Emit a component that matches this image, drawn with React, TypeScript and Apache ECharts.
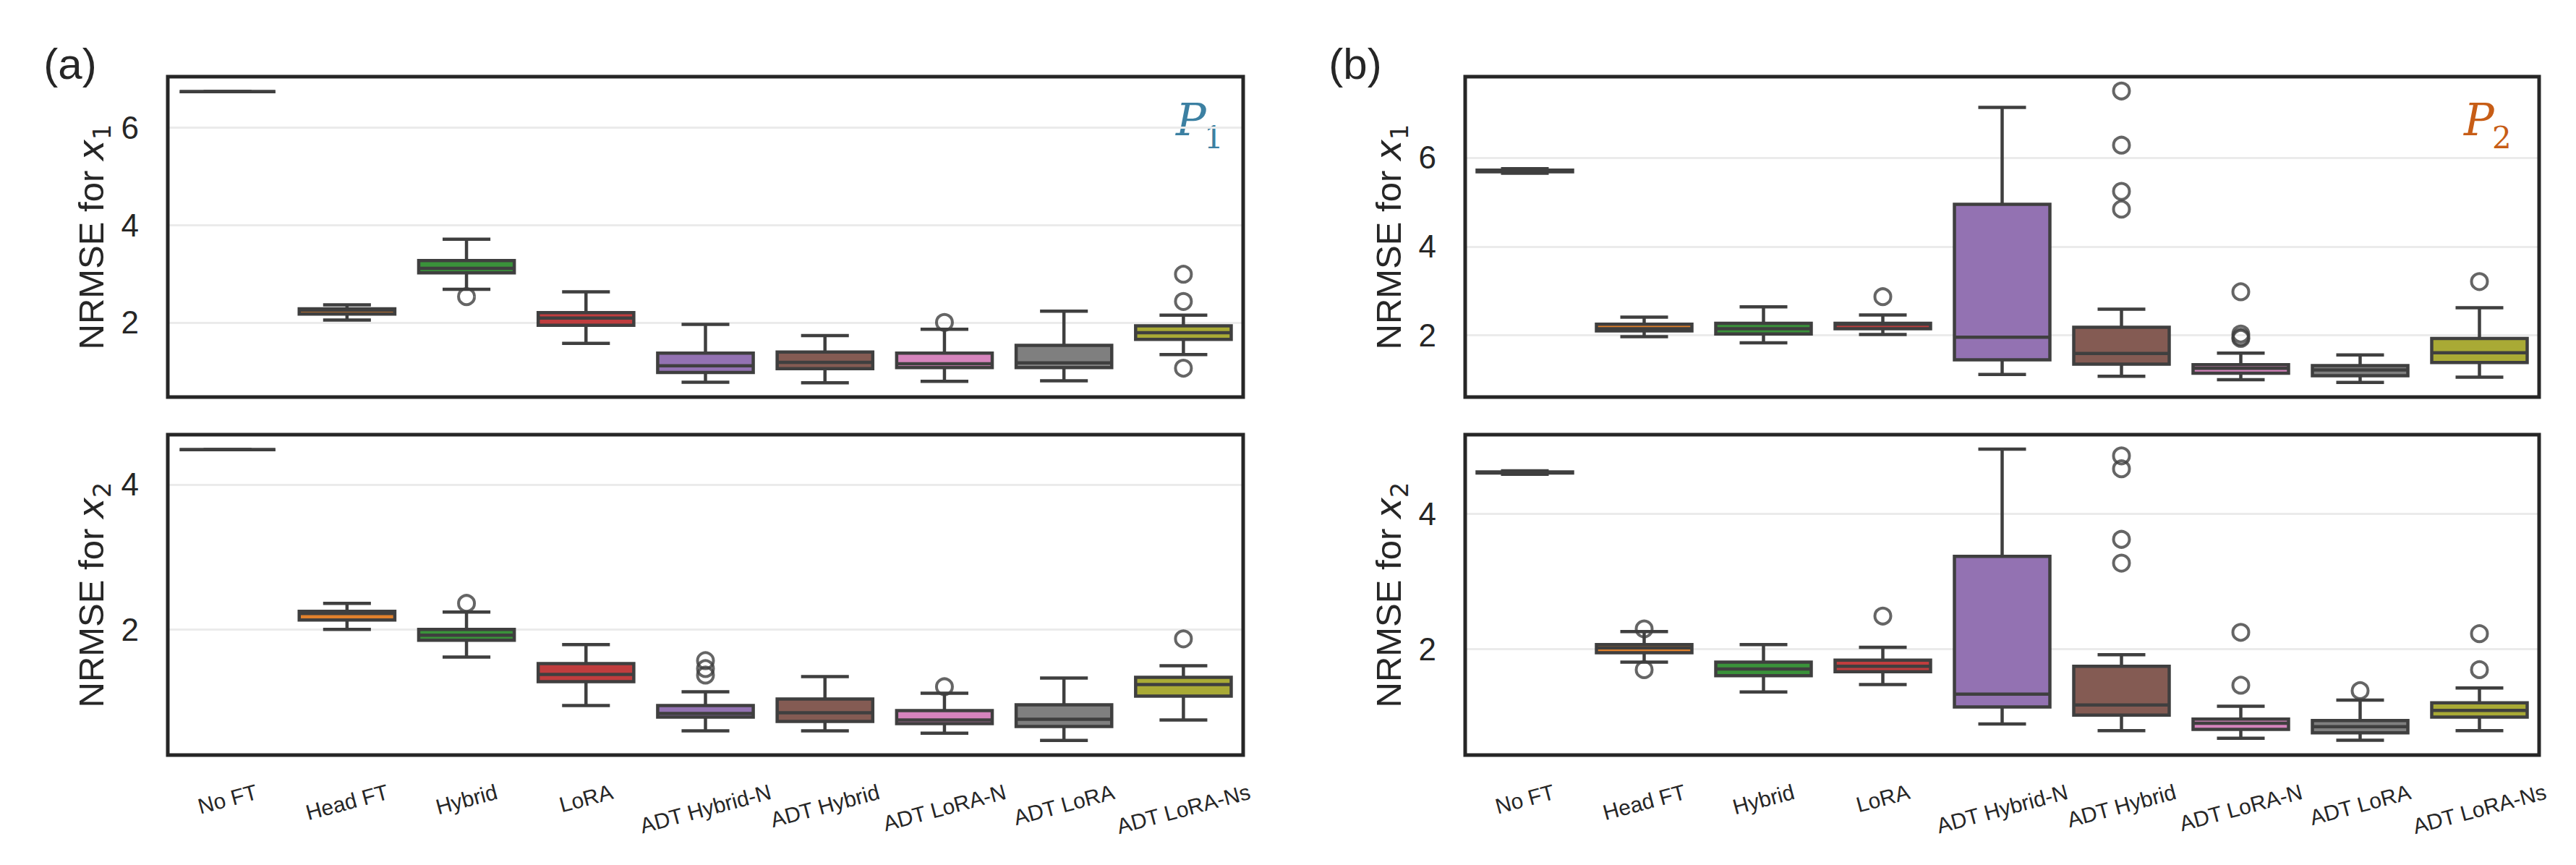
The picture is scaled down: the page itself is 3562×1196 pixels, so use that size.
import React, { useEffect, useRef } from 'react';
import * as echarts from 'echarts';

// Fine-tuning methods, in display order
const methods = [
  'No FT',
  'Head FT',
  'Hybrid',
  'LoRA',
  'ADT Hybrid-N',
  'ADT Hybrid',
  'ADT LoRA-N',
  'ADT LoRA',
  'ADT LoRA-Ns',
];

const boxColors = [
  '#3274a1',
  '#e1812c',
  '#3a923a',
  '#c03d3e',
  '#9372b2',
  '#845b53',
  '#d684bd',
  '#7f7f7f',
  '#a9aa35',
];

// Box statistics per method: [whiskerLow, q1, median, q3, whiskerHigh]
const p1x1Boxes = [
  [6.74, 6.74, 6.74, 6.74, 6.74],
  [2.05, 2.17, 2.25, 2.28, 2.36],
  [2.68, 3.02, 3.11, 3.27, 3.71],
  [1.57, 1.94, 2.09, 2.2, 2.63],
  [0.77, 0.97, 1.11, 1.37, 1.96],
  [0.76, 1.05, 1.18, 1.39, 1.73],
  [0.79, 1.07, 1.15, 1.37, 1.86],
  [0.8, 1.07, 1.17, 1.53, 2.23],
  [1.34, 1.65, 1.79, 1.93, 2.15],
];
const p1x1Outliers = [
  [2, 2.53],
  [6, 2.0],
  [8, 2.99],
  [8, 2.43],
  [8, 1.06],
];

const p1x2Boxes = [
  [4.48, 4.48, 4.48, 4.48, 4.48],
  [2.0, 2.13, 2.22, 2.25, 2.36],
  [1.62, 1.85, 1.92, 2.0, 2.24],
  [0.95, 1.28, 1.38, 1.53, 1.79],
  [0.6, 0.79, 0.84, 0.95, 1.14],
  [0.6, 0.73, 0.85, 1.04, 1.35],
  [0.57, 0.7, 0.75, 0.88, 1.12],
  [0.47, 0.66, 0.76, 0.96, 1.33],
  [0.75, 1.08, 1.24, 1.34, 1.5],
];
const p1x2Outliers = [
  [2, 2.36],
  [4, 1.57],
  [4, 1.46],
  [4, 1.37],
  [6, 1.21],
  [8, 1.87],
];

const p2x1Boxes = [
  [5.65, 5.68, 5.7, 5.72, 5.75],
  [1.97, 2.1, 2.15, 2.25, 2.41],
  [1.83, 2.03, 2.15, 2.27, 2.64],
  [2.02, 2.15, 2.25, 2.27, 2.46],
  [1.12, 1.45, 1.96, 4.95, 7.13],
  [1.08, 1.35, 1.59, 2.18, 2.59],
  [1.0, 1.15, 1.26, 1.34, 1.6],
  [0.94, 1.09, 1.22, 1.32, 1.56],
  [1.06, 1.39, 1.61, 1.93, 2.62],
];
const p2x1Outliers = [
  [3, 2.87],
  [5, 7.5],
  [5, 6.28],
  [5, 5.24],
  [5, 4.84],
  [6, 2.98],
  [6, 2.03],
  [6, 1.96],
  [6, 1.93],
  [8, 3.21],
];

const p2x2Boxes = [
  [4.58, 4.597, 4.605, 4.613, 4.63],
  [1.81, 1.95, 2.02, 2.07, 2.26],
  [1.37, 1.61, 1.71, 1.81, 2.07],
  [1.48, 1.67, 1.75, 1.84, 2.03],
  [0.9, 1.15, 1.34, 3.37, 4.95],
  [0.8, 1.03, 1.18, 1.75, 1.92],
  [0.69, 0.82, 0.91, 0.97, 1.16],
  [0.66, 0.77, 0.86, 0.95, 1.25],
  [0.8, 1.0, 1.1, 1.21, 1.43],
];
const p2x2Outliers = [
  [1, 2.3],
  [1, 1.7],
  [3, 2.49],
  [5, 4.85],
  [5, 4.66],
  [5, 3.62],
  [5, 3.27],
  [6, 2.25],
  [6, 1.47],
  [7, 1.39],
  [8, 2.23],
  [8, 1.7],
];

// Value-axis limits and tick labels per panel
const yLimits = [
  [0.466, 7.05],
  [0.267, 4.687],
  [0.611, 7.822],
  [0.441, 5.163],
];
const yTicks = [
  [2, 4, 6],
  [2, 4],
  [2, 4, 6],
  [2, 4],
];
const yNames = ['1', '2', '1', '2'];

const INK = '#262626';
const LINE = '#3f3f3f';
const SANS = '"Liberation Sans", Arial, sans-serif';
const X_LABEL_SIZE = 30;
const X_LABEL_ROTATE = 15;

const panels = [
  { boxes: p1x1Boxes, outliers: p1x1Outliers, left: 232, top: 106, width: 1487, labels: false },
  { boxes: p1x2Boxes, outliers: p1x2Outliers, left: 232, top: 601, width: 1487, labels: true },
  { boxes: p2x1Boxes, outliers: p2x1Outliers, left: 2026, top: 106, width: 1485, labels: false },
  { boxes: p2x2Boxes, outliers: p2x2Outliers, left: 2026, top: 601, width: 1485, labels: true },
];

// Rotated tick labels hang from a common top edge, so longer labels sit lower.
// Each label gets its own rich style whose padding moves it down by half its rotated extent.
function hangingLabelStyles() {
  const ctx = document.createElement('canvas').getContext('2d');
  const rad = (X_LABEL_ROTATE * Math.PI) / 180;
  const rich: Record<string, any> = {};
  methods.forEach((m, i) => {
    let w = m.length * X_LABEL_SIZE * 0.55;
    if (ctx) {
      ctx.font = `${X_LABEL_SIZE}px "Liberation Sans", Arial, sans-serif`;
      w = ctx.measureText(m).width;
    }
    const p = w * Math.sin(rad) * Math.cos(rad);
    const q = p * Math.tan(rad);
    rich[`m${i}`] = {
      fontSize: X_LABEL_SIZE,
      fontFamily: SANS,
      color: INK,
      padding: [p, q, 0, 0],
    };
  });
  return rich;
}

const renderBox = (params: any, api: any) => {
  const i = api.value(0);
  const ys = [1, 2, 3, 4, 5].map((d) => api.coord([i, api.value(d)])[1]);
  const cx = api.coord([i, api.value(3)])[0];
  const band = api.size([1, 0])[0];
  const hw = band * 0.4;
  const cw = band * 0.2;
  const [yLo, yQ1, yMed, yQ3, yHi] = ys;
  const stroke = { stroke: LINE, lineWidth: 4.5, fill: null };
  return {
    type: 'group',
    children: [
      { type: 'line', shape: { x1: cx, y1: yQ1, x2: cx, y2: yLo }, style: stroke },
      { type: 'line', shape: { x1: cx, y1: yQ3, x2: cx, y2: yHi }, style: stroke },
      { type: 'line', shape: { x1: cx - cw, y1: yLo, x2: cx + cw, y2: yLo }, style: stroke },
      { type: 'line', shape: { x1: cx - cw, y1: yHi, x2: cx + cw, y2: yHi }, style: stroke },
      {
        type: 'rect',
        shape: { x: cx - hw, y: yQ3, width: 2 * hw, height: yQ1 - yQ3 },
        style: { fill: boxColors[i], stroke: LINE, lineWidth: 4.5 },
      },
      { type: 'line', shape: { x1: cx - hw, y1: yMed, x2: cx + hw, y2: yMed }, style: stroke },
    ],
  };
};

function buildOption() {
  const grid: any[] = [];
  const xAxis: any[] = [];
  const yAxis: any[] = [];
  const series: any[] = [];
  const labelRich = hangingLabelStyles();

  panels.forEach((p, k) => {
    grid.push({
      left: p.left,
      top: p.top,
      width: p.width,
      height: 443,
      show: true,
      borderColor: INK,
      borderWidth: 5,
      backgroundColor: 'transparent',
      z: 3,
    });
    xAxis.push({
      type: 'category',
      gridIndex: k,
      data: methods,
      boundaryGap: true,
      axisLine: { show: false },
      axisTick: { show: false },
      splitLine: { show: false },
      axisLabel: p.labels
        ? {
            show: true,
            interval: 0,
            rotate: X_LABEL_ROTATE,
            align: 'center',
            verticalAlign: 'middle',
            margin: 50,
            fontSize: X_LABEL_SIZE,
            fontFamily: SANS,
            color: INK,
            formatter: (v: string) => `{m${methods.indexOf(v)}|${v}}`,
            rich: labelRich,
          }
        : { show: false },
    });
    yAxis.push({
      type: 'value',
      gridIndex: k,
      min: yLimits[k][0],
      max: yLimits[k][1],
      axisLine: { show: false },
      axisTick: { show: false, customValues: yTicks[k] },
      axisLabel: {
        customValues: yTicks[k],
        fontSize: 44,
        fontFamily: SANS,
        color: INK,
        margin: 40,
      },
      splitLine: { show: true, lineStyle: { color: '#ebebeb', width: 3 } },
      name: `{t|NRMSE for }{v|x}{s|${yNames[k]}}`,
      nameLocation: 'middle',
      nameRotate: 90,
      nameGap: 74,
      nameTextStyle: {
        color: INK,
        fontSize: 49,
        fontFamily: SANS,
        rich: {
          t: { fontSize: 49, fontFamily: SANS, color: INK, lineHeight: 64, verticalAlign: 'middle' },
          v: {
            fontSize: 49,
            fontFamily: '"DejaVu Sans", sans-serif',
            fontStyle: 'italic',
            color: INK,
            lineHeight: 64,
            verticalAlign: 'middle',
          },
          s: {
            fontSize: 34,
            fontFamily: '"DejaVu Sans", sans-serif',
            color: INK,
            lineHeight: 40,
            verticalAlign: 'bottom',
          },
        },
      },
    });
    series.push({
      type: 'custom',
      xAxisIndex: k,
      yAxisIndex: k,
      renderItem: renderBox,
      encode: { x: 0, y: [1, 2, 3, 4, 5] },
      data: p.boxes.map((b, i) => [i, ...b]),
      z: 2,
    });
    series.push({
      type: 'scatter',
      xAxisIndex: k,
      yAxisIndex: k,
      data: p.outliers,
      symbol: 'circle',
      symbolSize: 22,
      itemStyle: { color: 'rgba(0,0,0,0)', borderColor: LINE, borderWidth: 4 },
      z: 4,
    });
  });

  const panelTag = (text: string, x: number) => ({
    type: 'text',
    x,
    y: 88,
    style: { text, fontSize: 60, fontFamily: SANS, fill: INK, align: 'center', verticalAlign: 'middle' },
  });
  const scenario = (num: string, x: number, color: string) => [
    {
      type: 'text',
      x,
      y: 165,
      style: {
        text: 'P',
        fontSize: 62,
        fontStyle: 'italic',
        fontFamily: '"DejaVu Serif", serif',
        fill: color,
        align: 'left',
        verticalAlign: 'middle',
      },
    },
    {
      type: 'text',
      x: x + 39,
      y: 190,
      style: {
        text: num,
        fontSize: 42,
        fontFamily: '"DejaVu Serif", serif',
        fill: color,
        align: 'left',
        verticalAlign: 'middle',
      },
    },
  ];

  return {
    animation: false,
    backgroundColor: '#ffffff',
    grid,
    xAxis,
    yAxis,
    series,
    graphic: [
      panelTag('(a)', 97),
      panelTag('(b)', 1874),
      ...scenario('1', 1626, '#3c80a2'),
      ...scenario('2', 3407, '#c75d16'),
    ],
  };
}

export default function App() {
  const ref = useRef<HTMLDivElement>(null);
  useEffect(() => {
    if (!ref.current) return;
    const chart = echarts.init(ref.current, null, { renderer: 'svg' });
    chart.setOption(buildOption() as any);
    return () => chart.dispose();
  }, []);
  return (
    <div
      ref={ref}
      style={{ position: 'fixed', left: 0, top: 0, width: 3562, height: 1196, background: '#fff' }}
    />
  );
}
